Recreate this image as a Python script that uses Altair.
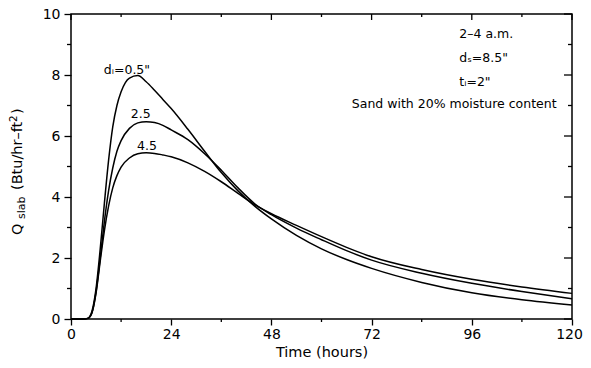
import altair as alt
import pandas as pd

# ---------------- data ----------------
time_h = [0, 3, 4, 5, 6, 7, 8, 9, 10, 11, 12, 14, 16, 18, 20, 22, 24, 28, 32, 36, 40, 44, 48, 54, 60, 66, 72, 84, 96, 108, 120]
q_di_05 = [0, 0, 0.02, 0.25, 1.0, 2.3, 3.8, 5.2, 6.3, 7.0, 7.45, 7.9, 7.98, 7.78, 7.5, 7.2, 6.9, 6.22, 5.5, 4.8, 4.2, 3.7, 3.28, 2.74, 2.3, 1.95, 1.66, 1.2, 0.86, 0.63, 0.46]
q_di_25 = [0, 0, 0.02, 0.2, 0.9, 2.0, 3.2, 4.2, 4.95, 5.5, 5.85, 6.25, 6.43, 6.47, 6.44, 6.35, 6.2, 5.88, 5.42, 4.88, 4.3, 3.78, 3.42, 2.98, 2.6, 2.24, 1.93, 1.5, 1.17, 0.9, 0.66]
q_di_45 = [0, 0, 0.02, 0.2, 0.85, 1.9, 2.9, 3.7, 4.3, 4.7, 4.98, 5.28, 5.42, 5.45, 5.43, 5.38, 5.32, 5.12, 4.84, 4.5, 4.12, 3.75, 3.45, 3.07, 2.7, 2.35, 2.04, 1.62, 1.3, 1.05, 0.84]
series_names = ["0.5", "2.5", "4.5"]

x_major = [0, 24, 48, 72, 96, 120]
x_minor = [12, 36, 60, 84, 108]
y_major = [0, 2, 4, 6, 8, 10]
y_minor = [1, 3, 5, 7, 9]

curve_labels = ["d\u1d62=0.5\"", "2.5", "4.5"]
curve_label_t = [13.4, 16.7, 18.2]
curve_label_q = [8.16, 6.72, 5.67]

note_texts = ["2\u20134 a.m.", "d\u209b=8.5\"", "t\u1d62=2\""]
note_t = [93.0, 93.0, 93.0]
note_q = [9.34, 8.56, 7.77]
sand_text = ["Sand with 20% moisture content"]
sand_t = [116.3]
sand_q = [7.05]

# ---------------- build ----------------
rows = []
for name, vals in zip(series_names, [q_di_05, q_di_25, q_di_45]):
    for t, v in zip(time_h, vals):
        rows.append({"t": t, "q": v, "di": name})
df = pd.DataFrame(rows)

W, H = 501, 305
FONT = "DejaVu Sans"
xscale = alt.Scale(domain=[0, 120], nice=False, zero=False)
yscale = alt.Scale(domain=[0, 10], nice=False, zero=False)

lines = alt.Chart(df).mark_line(color="black", strokeWidth=1.5, interpolate="monotone").encode(
    x=alt.X("t:Q", scale=xscale, axis=alt.Axis(
        values=x_major, title="Time (hours)", tickSize=6, labelPadding=2, titlePadding=4,
        labelFlush=False,
        labelOffset={"condition": {"test": "datum.value == 120", "value": -3}, "value": 0})),
    y=alt.Y("q:Q", scale=yscale, axis=alt.Axis(values=y_major, title=None, tickSize=7,
                                              labelPadding=4, labelFlush=False)),
    detail="di:N",
)

# minor / inward ticks
def vrules(vals, y0, y1):
    return alt.Chart(pd.DataFrame({"t": vals})).mark_rule(color="black", strokeWidth=1.3).encode(
        x=alt.X("t:Q", scale=xscale), y=alt.value(y0), y2=alt.value(y1))

def hrules(vals, x0, x1):
    return alt.Chart(pd.DataFrame({"q": vals})).mark_rule(color="black", strokeWidth=1.3).encode(
        y=alt.Y("q:Q", scale=yscale), x=alt.value(x0), x2=alt.value(x1))

ticks = [
    vrules(x_minor, H, H + 3),      # bottom minor, outward
    hrules(y_minor, 0, -4),         # left minor, outward
    vrules(x_major, 0, 6),          # top major, inward
    vrules(x_minor, 0, 3),          # top minor, inward
    hrules(y_major, W, W - 8),      # right major, inward
    hrules(y_minor, W, W - 4),      # right minor, inward
]

lab_df = pd.DataFrame({"t": curve_label_t, "q": curve_label_q, "s": curve_labels})
lab = alt.Chart(lab_df).mark_text(font=FONT, fontSize=12.5, color="black", align="center", baseline="middle").encode(
    x=alt.X("t:Q", scale=xscale), y=alt.Y("q:Q", scale=yscale), text="s:N")

note_df = pd.DataFrame({"t": note_t, "q": note_q, "s": note_texts})
notes = alt.Chart(note_df).mark_text(font=FONT, fontSize=12.5, color="black", align="left", baseline="middle").encode(
    x=alt.X("t:Q", scale=xscale), y=alt.Y("q:Q", scale=yscale), text="s:N")

sand_df = pd.DataFrame({"t": sand_t, "q": sand_q, "s": sand_text})
sand = alt.Chart(sand_df).mark_text(font=FONT, fontSize=12.5, color="black", align="right", baseline="middle").encode(
    x=alt.X("t:Q", scale=xscale), y=alt.Y("q:Q", scale=yscale), text="s:N")

# rotated y-axis title with subscript / superscript
ytitle_parts = ["Q", "slab", "(Btu/hr\u2013ft", "2", ")"]
title_x = [-53, -49, -53, -57, -53]
title_y = [221, 205, 176, 108, 100]
title_size = [14.5, 11, 14.5, 10.5, 14.5]
ytitle_layers = []
for s, xx, yy, fs in zip(ytitle_parts, title_x, title_y, title_size):
    ytitle_layers.append(
        alt.Chart(pd.DataFrame({"s": [s]})).mark_text(font=FONT, fontSize=fs, color="black", angle=270,
                                                      align="left", baseline="middle").encode(
            x=alt.value(xx), y=alt.value(yy), text="s:N")
    )

chart = alt.layer(lines, *ticks, lab, notes, sand, *ytitle_layers).properties(
    width=W, height=H,
    autosize=alt.AutoSizeParams(type="none"),
    padding={"left": 63, "top": 6, "right": 11, "bottom": 41},
    background="white",
).configure_view(stroke="black", strokeWidth=1.5).configure_axis(
    labelFont=FONT, labelFontSize=14, labelColor="black", tickColor="black", tickWidth=1.3,
    domain=False, grid=False, titleFont=FONT, titleFontSize=14.5, titleFontWeight="normal", titleColor="black",
)

chart.save("out.html", embed_options={"renderer": "svg", "actions": False})
